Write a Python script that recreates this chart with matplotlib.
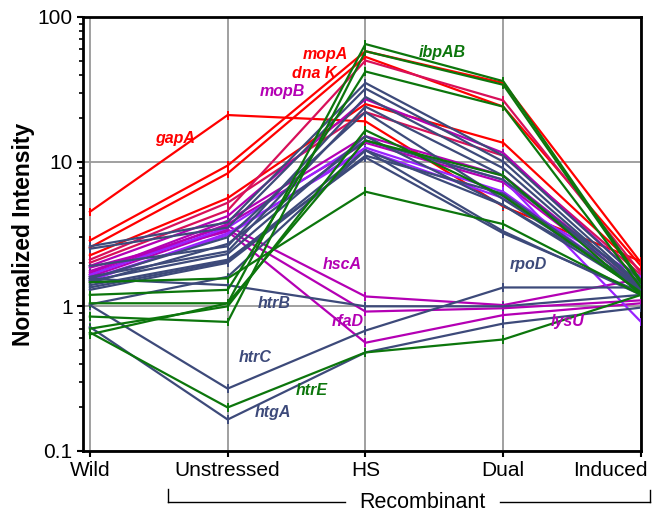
import matplotlib
matplotlib.use("Agg")
import matplotlib.pyplot as plt
from matplotlib.lines import Line2D
from matplotlib.transforms import ScaledTranslation

plt.rcParams['font.family'] = ['Liberation Sans', 'DejaVu Sans']

# conditions on the x axis
conditions = ['Wild', 'Unstressed', 'HS', 'Dual', 'Induced']

# colours used in the figure
RED = '#ff0000'
CRIMSON = '#d8105a'
MAGENTA = '#b400b4'
VIOLET = '#9a22ff'
NAVY = '#3d4a7a'
GREEN = '#0c760c'

# normalized intensities, one list per protein (Wild, Unstressed, HS, Dual, Induced)
red_lines = [
    [4.5, 21.0, 19.0, 4.9, 2.05],   # gapA
    [2.85, 9.4, 58.0, 35.0, 2.0],   # mopA
    [2.55, 8.3, 53.0, 24.0, 1.9],   # dnaK
    [2.25, 5.6, 25.0, 13.5, 1.75],
]
crimson_lines = [
    [2.1, 5.2, 22.0, 11.0, 1.65],
    [2.0, 4.6, 50.0, 26.5, 1.7],
]
magenta_lines = [
    [1.9, 4.2, 27.0, 11.5, 1.5],    # mopB
    [1.75, 3.6, 1.17, 1.02, 1.55],  # hscA
    [1.85, 3.3, 0.56, 0.87, 1.05],  # rfaD
    [1.6, 3.4, 0.92, 0.97, 1.1],    # lysU
    [1.7, 3.9, 15.0, 8.0, 1.4],
    [1.65, 3.7, 13.5, 7.2, 1.35],
]
violet_lines = [
    [1.55, 3.1, 12.5, 6.2, 1.3],
    [1.65, 3.5, 14.0, 7.5, 0.78],
    [1.5, 3.2, 12.0, 5.6, 1.6],
]
navy_lines = [
    [2.6, 3.8, 35.0, 11.0, 1.5],
    [2.5, 3.5, 32.0, 10.0, 1.4],
    [1.9, 2.6, 28.0, 9.0, 1.35],
    [1.6, 2.4, 24.0, 8.0, 1.3],
    [1.5, 2.3, 15.0, 5.0, 1.4],
    [1.4, 2.1, 10.7, 3.2, 1.25],    # rpoD
    [1.35, 2.05, 12.0, 3.3, 1.2],
    [1.3, 2.0, 11.0, 6.0, 1.3],
    [1.45, 2.7, 14.0, 7.5, 1.45],
    [1.55, 3.0, 22.0, 5.5, 1.35],
    [1.03, 1.6, 12.0, 5.0, 1.3],
    [1.55, 1.4, 1.0, 1.0, 1.2],     # htrB
    [1.02, 0.27, 0.68, 1.35, 1.35], # htrC
    [0.72, 0.165, 0.48, 0.76, 0.98],# htgA
]
green_lines = [
    [1.05, 1.05, 65.0, 36.0, 1.5],  # ibpAB
    [0.85, 0.78, 58.0, 34.0, 1.45],
    [1.2, 1.3, 42.0, 24.0, 1.35],
    [0.7, 1.0, 16.5, 5.8, 1.25],
    [1.47, 1.56, 6.2, 3.7, 1.2],
    [0.64, 1.05, 14.0, 8.0, 1.2],
    [0.66, 0.2, 0.48, 0.59, 1.2],   # htrE
]

groups = [(red_lines, RED), (crimson_lines, CRIMSON), (magenta_lines, MAGENTA),
          (violet_lines, VIOLET), (navy_lines, NAVY), (green_lines, GREEN)]

# protein labels: name, x (condition index), y, colour
label_names = ['gapA', 'mopA', 'dna K', 'mopB', 'ibpAB', 'hscA', 'rfaD',
               'rpoD', 'htrB', 'htrC', 'htrE', 'htgA', 'lysU']
label_x = [0.62, 1.71, 1.63, 1.4, 2.56, 1.83, 1.87, 3.18, 1.34, 1.2, 1.61, 1.33, 3.47]
label_y = [14.5, 55.0, 41.0, 30.5, 57.0, 1.95, 0.79, 1.95, 1.05, 0.44, 0.26, 0.185, 0.79]
label_colors = [RED, RED, RED, MAGENTA, GREEN, MAGENTA, MAGENTA,
                NAVY, NAVY, NAVY, GREEN, NAVY, MAGENTA]

fig = plt.figure(figsize=(6.57, 5.15), dpi=100)
ax = fig.add_axes([0.1263, 0.1243, 0.8494, 0.8427])

xs = list(range(len(conditions)))
for lines, color in groups:
    for vals in lines:
        err = [v * 0.07 for v in vals]
        ax.errorbar(xs, vals, yerr=err, color=color, lw=1.6, elinewidth=1.4,
                    capsize=0, zorder=3)

for name, x, y, c in zip(label_names, label_x, label_y, label_colors):
    ax.text(x, y, name, color=c, fontsize=11.5, fontstyle='italic',
            fontweight='bold', ha='center', va='center', zorder=5)

ax.set_yscale('log')
ax.set_ylim(0.1, 100)
ax.set_xlim(-0.05, 4)
ax.set_yticks([0.1, 1, 10, 100])
ax.set_yticklabels(['0.1', '1', '10', '100'])
ax.set_xticks(xs)
ax.set_xticklabels(conditions)
ax.tick_params(axis='both', labelsize=15, width=1.5, length=4, direction='out')
ax.tick_params(axis='y', which='minor', width=1.2, length=3)
ax.grid(True, which='major', color='#999999', lw=1.3, zorder=1)
for s in ax.spines.values():
    s.set_linewidth(2)
ax.set_ylabel('Normalized Intensity', fontsize=16.5, fontweight='bold', labelpad=2)

# last tick label sits right-aligned so it stays inside the figure
last = ax.get_xticklabels()[-1]
last.set_ha('right')
last.set_transform(last.get_transform() + ScaledTranslation(7 / 100, 0, fig.dpi_scale_trans))

# "Recombinant" bracket under the last four conditions
W, H = 657.0, 515.0
def fx(px):
    return px / W
def fy(py):
    return 1 - py / H
bracket = [((168, 168), (489, 502)), ((168, 345), (502, 502)),
           ((500, 650), (502, 502)), ((650, 650), (490, 502))]
for (x0, x1), (y0, y1) in bracket:
    fig.add_artist(Line2D([fx(x0), fx(x1)], [fy(y0), fy(y1)], color='black', lw=1))
fig.text(fx(422), fy(502), 'Recombinant', fontsize=15.5, ha='center', va='center')

fig.savefig('out.png', dpi=100)
